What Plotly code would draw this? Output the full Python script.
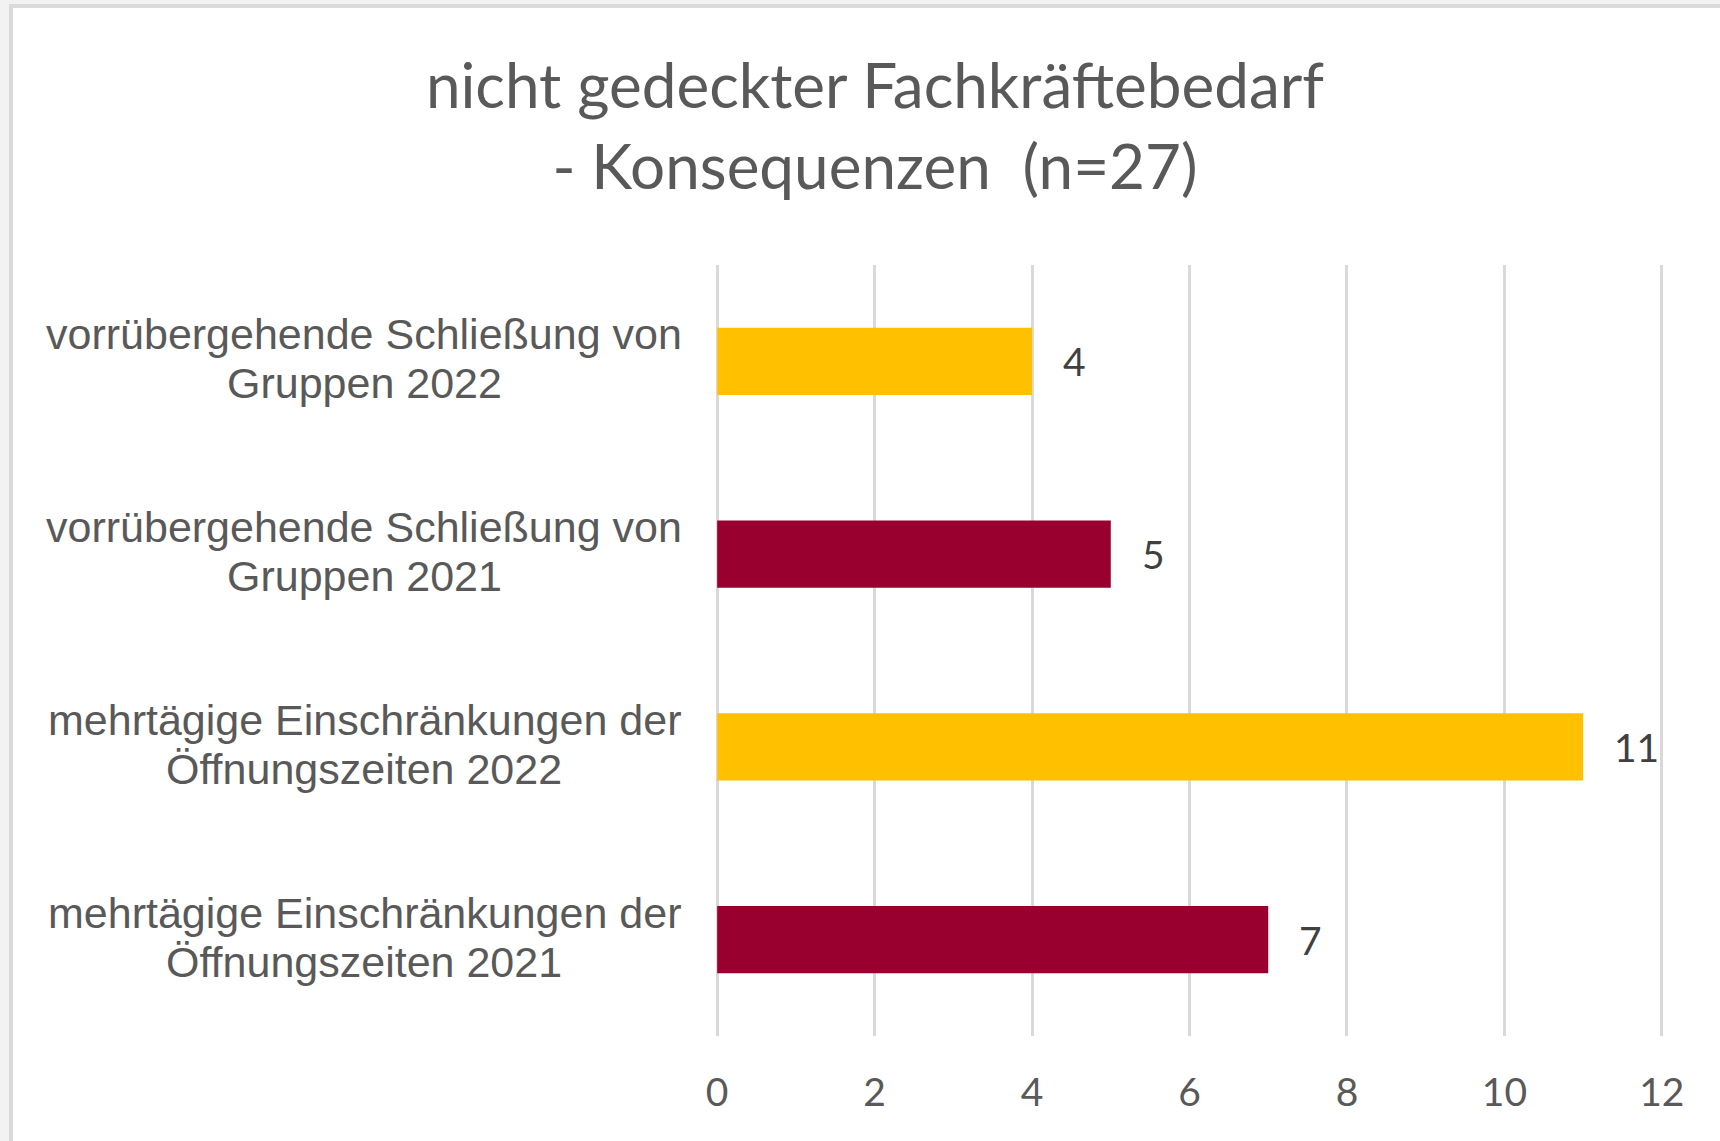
import plotly.graph_objects as go

# ---- data ----
categories = [
    "vorrübergehende Schließung von<br>Gruppen 2022",
    "vorrübergehende Schließung von<br>Gruppen 2021",
    "mehrtägige Einschränkungen der<br>Öffnungszeiten 2022",
    "mehrtägige Einschränkungen der<br>Öffnungszeiten 2021",
]
values = [4, 5, 11, 7]
years = ["2022", "2021", "2022", "2021"]
year_colors = {"2022": "#FFC000", "2021": "#990030"}
x_ticks = [0, 2, 4, 6, 8, 10, 12]
title_text = "nicht gedeckter Fachkräftebedarf<br>- Konsequenzen \u00a0(n=27)"

W, H = 1720, 1141
ML, MR, MT, MB = 716, 57, 265, 105
PW, PH = W - ML - MR, H - MT - MB

bar_colors = [year_colors[y] for y in years]


def px_x(p):
    return (p - ML) / PW


def px_y(p):
    return 1 - (p - MT) / PH


fig = go.Figure()
fig.add_trace(go.Bar(
    x=values, y=categories, orientation="h",
    marker=dict(color=bar_colors, line=dict(width=0)),
    width=0.35, hoverinfo="skip",
))

# value labels
for c, v in zip(categories, values):
    fig.add_annotation(x=v, y=c, text=str(v), showarrow=False,
                       xanchor="left", xshift=29,
                       font=dict(family="Lato", size=39, color="#404040"))

# category labels (centered lines, Excel-like line spacing)
line_shifts = [27, -22]
for c in categories:
    for line, ys in zip(c.split("<br>"), line_shifts):
        fig.add_annotation(x=px_x(364), xref="paper", y=c, text=line,
                           showarrow=False, xanchor="center", yshift=ys,
                           font=dict(family="Liberation Sans", size=43,
                                     color="#595959"))

# frame: grey outer strip + light border
fig.add_shape(type="rect", xref="paper", yref="paper", layer="below",
              x0=px_x(11), x1=px_x(W + 20), y0=px_y(H + 20), y1=px_y(6),
              fillcolor="white", line=dict(color="#dadada", width=4))

fig.update_layout(
    width=W, height=H,
    margin=dict(l=ML, r=MR, t=MT, b=MB, pad=0),
    paper_bgcolor="#f2f2f2", plot_bgcolor="rgba(0,0,0,0)",
    showlegend=False,
    title=dict(text=title_text, x=875 / W, xanchor="center",
               y=1 - 108 / H, yanchor="middle", xref="container", yref="container",
               font=dict(family="Lato", size=62, color="#595959")),
)
fig.update_xaxes(range=[-0.015, 12.015], tickvals=x_ticks, showgrid=True,
                 gridcolor="#d9d9d9", gridwidth=3, zeroline=False,
                 showline=False, ticks="", ticklabelstandoff=30,
                 tickfont=dict(family="Lato", size=39, color="#595959"),
                 fixedrange=True)
fig.update_yaxes(autorange="reversed", showticklabels=False, showgrid=False,
                 zeroline=False, showline=False, ticks="", fixedrange=True)

fig.write_html("out.html", config={"displayModeBar": False},
               post_script="document.body.style.margin='0';")
